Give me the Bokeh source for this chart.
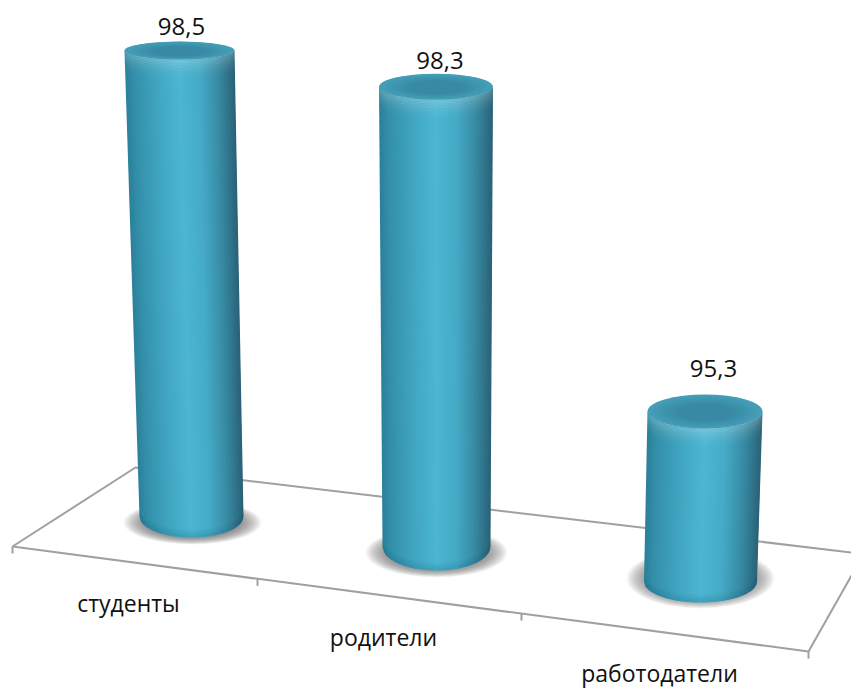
import math
from bokeh.plotting import figure
from bokeh.models import Range1d
from bokeh.core.properties import value as V
from bokeh.embed import file_html
from bokeh.resources import INLINE

categories = ["студенты", "родители", "работодатели"]
values = [98.5, 98.3, 95.3]

# --- layout of the 3-D scene, in page pixels ---
W, H = 851, 689
base_value = 93.5
depth_scale = [0.932, 0.958, 0.944]
floor_cx = [191, 436, 700]
floor_cy = [516, 546, 581]
floor_rx = [52, 54, 56.5]
floor_ry = [21, 24, 21]
top_cx = [179, 435.5, 704.5]
top_rx = [55, 57, 57.5]
top_ry = [9, 13, 17]
label_dy = [24, 26, 43]
label_dx = [2, 4, 8.5]
cat_x = [128, 383, 659]
cat_y = [602, 636, 672]
shadow_dx = [1, 0, 0]
shadow_dy = [6, 6, -3]
shadow_rx = [69, 71, 74]
shadow_ry = [22, 25, 30]
floor_pts = [(12, 546), (135, 467), (851, 552)]
floor_front = [(12, 546), (808, 651), (851, 575)]
ticks_x = [12, 257, 521, 808]
tick_len = 7


def Y(py):
    return 88.0 + (689 - py) / 100.0


p = figure(width=W, height=H, x_range=Range1d(0, 851), y_range=Range1d(Y(689), Y(0)),
           x_axis_type=None, y_axis_type=None, toolbar_location=None,
           output_backend="svg", min_border=0)
p.grid.visible = False
p.outline_line_color = None
p.background_fill_color = "white"
p.border_fill_color = "white"

# floor
axis_color = "#a0a0a0"
p.line([q[0] for q in floor_pts], [Y(q[1]) for q in floor_pts], line_color=axis_color, line_width=2)
p.line([q[0] for q in floor_front], [Y(q[1]) for q in floor_front], line_color=axis_color, line_width=2)
slope = (floor_front[1][1] - floor_front[0][1]) / (floor_front[1][0] - floor_front[0][0])
for tx in ticks_x:
    ty = floor_front[0][1] + (tx - floor_front[0][0]) * slope
    p.line([tx, tx], [Y(ty), Y(ty + tick_len)], line_color=axis_color, line_width=2)


def hex2rgb(h):
    return tuple(int(h[i:i + 2], 16) for i in (1, 3, 5))


stops = [(0.0, "#2b7f99"), (0.08, "#338fa9"), (0.3, "#41a6c2"), (0.5, "#4cb6d2"),
         (0.68, "#45aac6"), (0.85, "#378aa3"), (0.95, "#2e6f86"), (1.0, "#2a6175")]


def shade(u):
    for (a, ca), (b, cb) in zip(stops, stops[1:]):
        if u <= b:
            t = (u - a) / (b - a)
            ra, rb = hex2rgb(ca), hex2rgb(cb)
            return "#%02x%02x%02x" % tuple(round(x + (y - x) * t) for x, y in zip(ra, rb))
    return stops[-1][1]


def arc(cx, cy, rx, ry, n=40):
    return [(cx + rx * math.cos(math.pi * (1 - i / n)), cy + ry * math.sin(math.pi * (1 - i / n)))
            for i in range(n + 1)]


for i, v in enumerate(values):
    fx, fy, frx, fry = floor_cx[i], floor_cy[i], floor_rx[i], floor_ry[i]
    tx, trx, tr_y = top_cx[i], top_rx[i], top_ry[i]
    # value -> cap height through the y scale
    ytop = Y(fy) + (v - base_value) * depth_scale[i]
    ty = 689 - (ytop - 88.0) * 100

    # soft contact shadow
    n_sh = 30
    for k in range(n_sh):
        f = 1 - k / n_sh * 0.38
        p.ellipse(fx + shadow_dx[i], Y(fy + shadow_dy[i]), width=2 * shadow_rx[i] * f,
                  height=2 * shadow_ry[i] * f / 100.0, fill_color="#5a5a5a", fill_alpha=0.04,
                  line_color=None)

    # body, vertical strips following the curved surface
    n = 80
    xs, ys, cols = [], [], []
    for k in range(n):
        u0, u1 = k / n, min(1, (k + 1.6) / n)
        def pt(u, cx, cy, rx, ry):
            c = 2 * u - 1
            return cx + rx * c, cy + ry * math.sqrt(max(0, 1 - c * c))
        a0 = pt(u0, tx, ty, trx, tr_y)
        a1 = pt(u1, tx, ty, trx, tr_y)
        b1 = pt(u1, fx, fy, frx, fry)
        b0 = pt(u0, fx, fy, frx, fry)
        xs.append([a0[0], a1[0], b1[0], b0[0]])
        ys.append([Y(a0[1]), Y(a1[1]), Y(b1[1]), Y(b0[1])])
        cols.append(shade((k + 0.5) / n))
    p.patches(xs, ys, fill_color=cols, line_color=None)

    # highlight just under the rim, fading smoothly
    bands = 14
    for b in range(bands):
        d0, d1 = b * 1.6, (b + 1) * 1.6 + 0.5
        al = 0.17 * (1 - b / bands) ** 2
        up = arc(tx, ty + d0, trx, tr_y)
        lo = arc(tx, ty + d1, trx, tr_y)[::-1]
        p.patch([q[0] for q in up + lo], [Y(q[1]) for q in up + lo], fill_color="white",
                fill_alpha=al, line_color=None)
    # darkening near the base
    for b in range(6):
        d0, d1 = b * 1.3, (b + 1) * 1.3 + 0.3
        al = 0.14 * (1 - b / 6)
        up = arc(fx, fy - d1, frx, fry)
        lo = arc(fx, fy - d0, frx, fry)[::-1]
        p.patch([q[0] for q in up + lo], [Y(q[1]) for q in up + lo], fill_color="#0b4a60",
                fill_alpha=al, line_color=None)

    # cap
    m = 20
    for k in range(m):
        f = 1 - k / m * 0.55
        t = k / (m - 1)
        col = "#%02x%02x%02x" % tuple(round(a + (b - a) * t) for a, b in zip((0x46, 0x9f, 0xb8), (0x38, 0x8a, 0xa4)))
        p.ellipse(tx, Y(ty + (1 - f) * 1.5), width=2 * trx * f, height=2 * tr_y * f / 100.0,
                  fill_color=col, line_color=None)

    # value label
    p.text([tx + label_dx[i]], [Y(ty - label_dy[i])], text=[f"{v:.1f}".replace(".", ",")],
           text_font=V("Open Sans"), text_font_size="24px", text_color="#111111",
           text_align="center", text_baseline="middle")

# category labels
p.text(cat_x, [Y(c) for c in cat_y], text=categories, text_font=V("Open Sans"),
       text_font_size="23px", text_color="#111111", text_align="center", text_baseline="middle")

open("out.html", "w").write(file_html(p, INLINE))
